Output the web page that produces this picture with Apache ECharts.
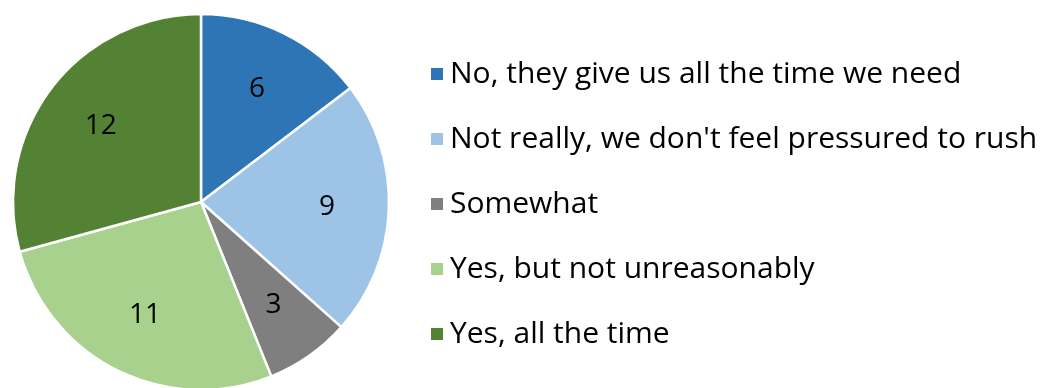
<!DOCTYPE html>
<html>
<head>
<meta charset="utf-8">
<script src="https://cdn.jsdelivr.net/npm/echarts@6/dist/echarts.min.js"></script>
<style>
  html, body { margin: 0; padding: 0; background: #fff; }
  #chart { width: 1044px; height: 388px; }
</style>
</head>
<body>
<div id="chart"></div>
<script>
// Survey answers and their counts
const categories = [
  'No, they give us all the time we need',
  "Not really, we don't feel pressured to rush",
  'Somewhat',
  'Yes, but not unreasonably',
  'Yes, all the time'
];
const counts = [6, 9, 3, 11, 12];
const colors = ['#2E75B6', '#9DC3E6', '#7F7F7F', '#A9D18E', '#548235'];

const data = categories.map((name, i) => ({
  name,
  value: counts[i],
  itemStyle: { color: colors[i] }
}));

const center = [201, 202];
const fontFamily = '"Open Sans", sans-serif';

const chart = echarts.init(document.getElementById('chart'), null, { renderer: 'canvas' });
chart.setOption({
  animation: false,
  backgroundColor: '#ffffff',
  legend: {
    orient: 'vertical',
    left: 424,
    top: 54,
    icon: 'rect',
    itemWidth: 14,
    itemHeight: 14,
    itemGap: 35,
    selectedMode: false,
    textStyle: {
      fontFamily,
      fontSize: 30,
      lineHeight: 30,
      color: '#000000',
      padding: [0, 0, 0, 1]
    },
    data: categories
  },
  series: [
    {
      type: 'pie',
      center,
      radius: [0, 188],
      startAngle: 90,
      clockwise: true,
      silent: true,
      itemStyle: { borderColor: '#ffffff', borderWidth: 2.5 },
      label: { show: false },
      labelLine: { show: false },
      data
    },
    {
      // transparent ring used only to place the value labels
      type: 'pie',
      center,
      radius: [100, 146],
      startAngle: 90,
      clockwise: true,
      silent: true,
      legendHoverLink: false,
      itemStyle: { color: 'rgba(0,0,0,0)', borderWidth: 0 },
      label: {
        show: true,
        position: 'inside',
        formatter: '{c}',
        fontFamily,
        fontSize: 28,
        color: '#000000'
      },
      labelLine: { show: false },
      data: categories.map((name, i) => ({ name, value: counts[i] }))
    }
  ]
});
</script>
</body>
</html>
